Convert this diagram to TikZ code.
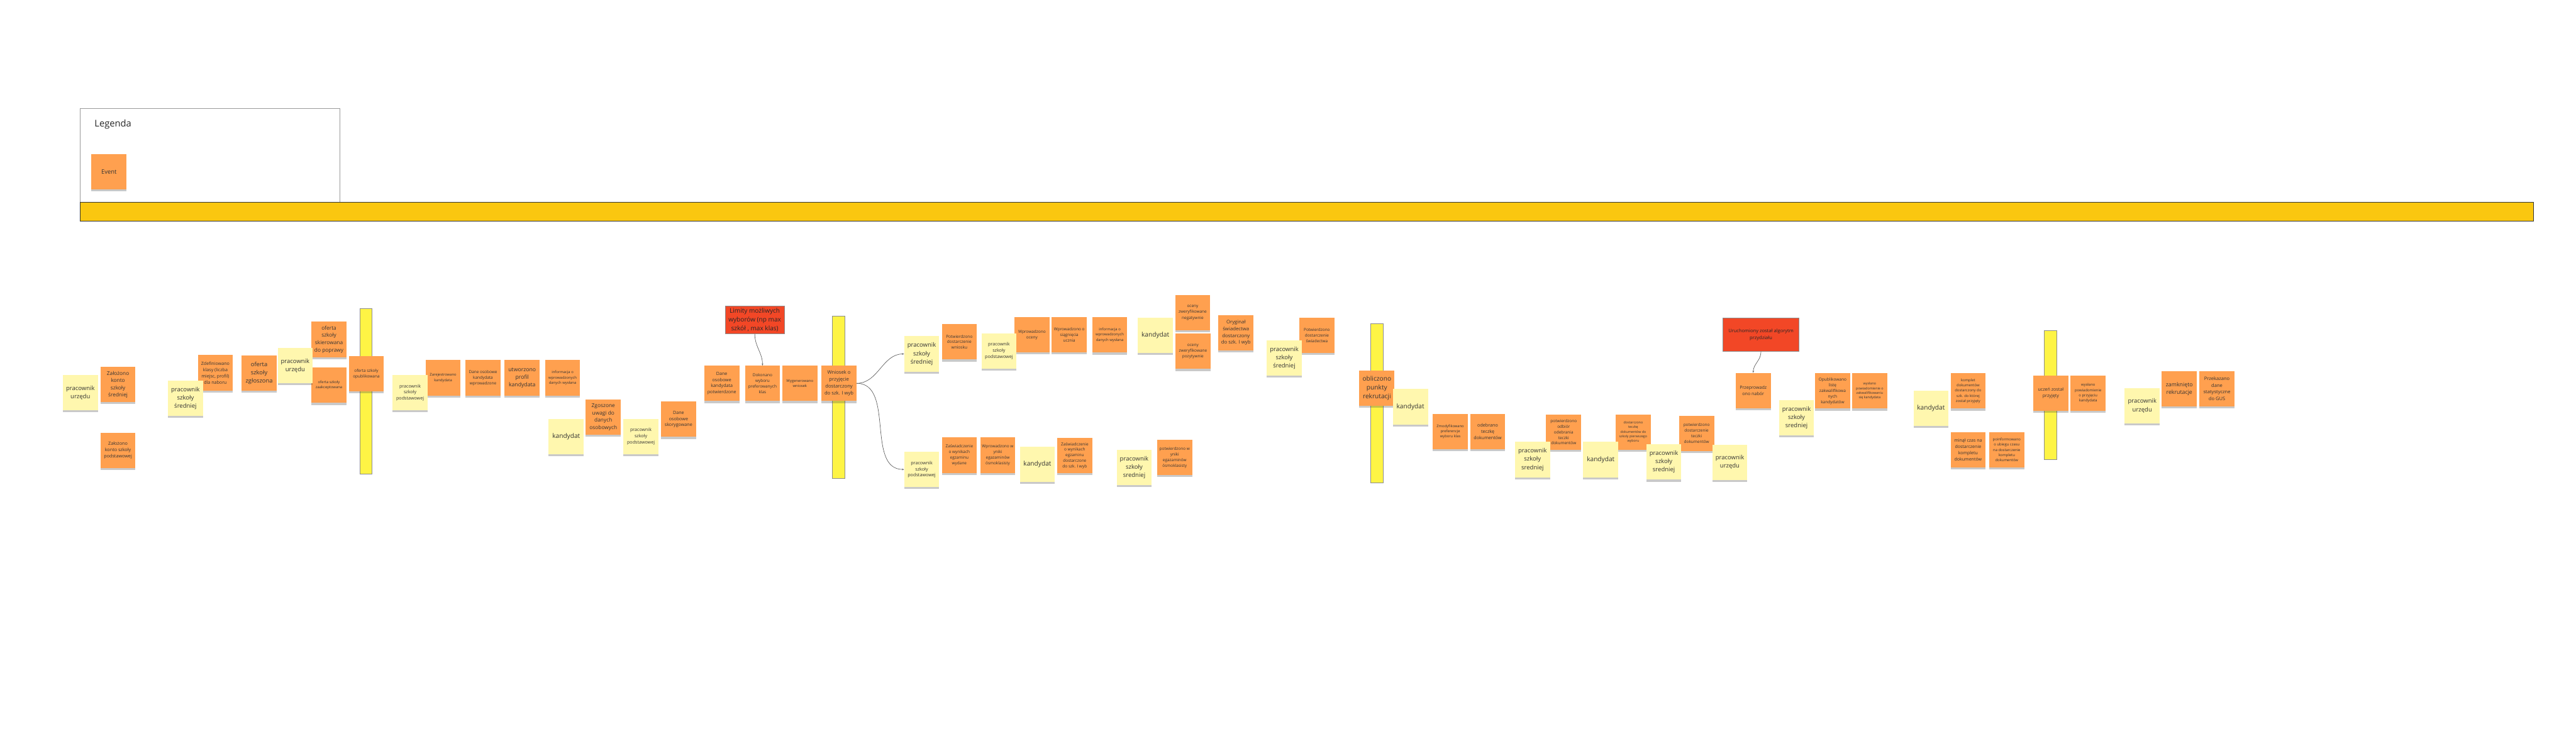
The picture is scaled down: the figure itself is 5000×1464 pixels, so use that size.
\documentclass[tikz,border=0pt]{standalone}
\usepackage{fontspec}
\setmainfont{Open Sans}
\usetikzlibrary{arrows.meta, shadows}

\definecolor{evorange}{HTML}{FFA04F}
\definecolor{actyellow}{HTML}{FFF7AE}
\definecolor{hotred}{HTML}{F24726}
\definecolor{pivotyellow}{HTML}{FEF445}
\definecolor{timebar}{HTML}{FAC710}

\tikzset{
  sticky/.style={minimum width=68pt, minimum height=68.5pt, inner sep=1pt, align=center, text=black!80,
    drop shadow={shadow xshift=0pt, shadow yshift=-4pt, opacity=0.3, fill=black!70}},
  event/.style={sticky, fill=evorange},
  actor/.style={sticky, fill=actyellow},
  hotspot/.style={draw=black!45, line width=1pt, fill=hotred, align=center, inner sep=0pt, text=black!85},
  pivot/.style={draw=black!45, line width=1pt, fill=pivotyellow, minimum width=24pt, inner sep=0pt},
  flow/.style={draw=black!65, line width=0.8pt, -{Stealth[length=4pt, width=3pt]}}
}

\begin{document}
\begin{tikzpicture}[x=1pt, y=-1pt]
\useasboundingbox (0,0) rectangle (5000,1464);

% Legend and timeline
\node[draw=black!40, line width=1pt, fill=white, minimum width=504pt, minimum height=182pt, inner sep=0pt] (legend) at (408,301.8) {};
\node[anchor=west, font=\fontsize{18}{22}\selectfont, text=black!85] (legendtitle) at (180,241.7) {Legenda};
\node[event, font=\fontsize{11.5}{14}\selectfont] (legendevent) at (211.5,333.2) {Event};
\node[draw=black!80, line width=1pt, fill=timebar, minimum width=4761pt, minimum height=36pt, inner sep=0pt] (timeline) at (2536.5,410.7) {};

% Pivotal events
\node[pivot, minimum height=321pt] (pivot1) at (710.5,758.8) {};
\node[pivot, minimum height=315pt] (pivot2) at (1628,770.3) {};
\node[pivot, minimum height=309pt] (pivot3) at (2672.5,782) {};
\node[pivot, minimum height=250pt] (pivot4) at (3980,766.5) {};

% Domain events
\foreach \i/\px/\py/\fsz/\lsk/\txt in {
  1/229/746/10.1/14/{Założono\\ konto\\ szkoły\\ średniej},
  2/229/874/8.8/12.3/{Założono\\ konto szkoły\\ podstawowej},
  3/418/723.3/8.7/12.2/{Zdefiniowano\\ klasy (liczba\\ miejsc, profil)\\ dla naboru},
  4/503/724/11.4/16/{oferta\\ szkoły\\ zgłoszona},
  5/638.5/658.5/10.2/14.3/{oferta\\ szkoły\\ skierowana\\ do poprawy},
  6/638.5/747.3/7.2/10.3/{oferta szkoły\\ zaakceptowana},
  7/711/725/7.9/11/{oferta szkoły\\ opublikowana},
  8/860/733/7.1/10.3/{Zarejestrowano\\ kandydata},
  9/937.5/733/7.9/11/{Dane osobowe\\ kandydata\\ wprowadzone},
  10/1013.5/733/10.6/15/{utworzono\\ profil\\ kandydata},
  11/1092/733/7.2/10.3/{informacja o\\ wprowadzonych\\ danych wysłana},
  12/1171/809.2/10.2/14.3/{Zgoszone\\ uwagi do\\ danych\\ osobowych},
  13/1317/813.5/8.75/12/{Dane\\ osobowe\\ skorygowane},
  14/1401/743.7/8.7/12/{Dane\\ osobowe\\ kandydata\\ potwierdzone},
  15/1480/743.7/7.9/11/{Dokonano\\ wyboru\\ preferowanych\\ klas},
  16/1552.5/743.7/7.2/10/{Wygenerowano\\ wniosek},
  17/1628.5/743.7/9.4/13.3/{Wniosek o\\ przyjęcie\\ dostarczony\\ do szk. I wyb},
  18/1862/663.3/8/10.7/{Potwierdzono\\ dostarczenie\\ wniosku},
  19/2003/649.3/7.9/11/{Wprowadzono\\ oceny},
  20/2075.5/649.2/7.8/11/{Wprowadzono o\\ siągnięcia\\ ucznia},
  21/2154/649.7/7.2/10.2/{informacja o\\ wprowadzonych\\ danych wysłana},
  22/1862/883.2/7.9/11/{Zaświadczenie\\ o wynikach\\ egzaminu\\ wydane},
  23/1936.6/883.2/7.85/11/{Wprowadzono w\\ yniki\\ egazaminów\\ ósmoklasisty},
  24/2086/883.8/7.9/10.8/{Zaświadczenie\\ o wynikach\\ egzaminu\\ dostarczone\\ do szk. I wyb},
  25/2280/887.5/7.85/11/{potwierdzono w\\ yniki\\ egazaminów\\ ósmoklasisty},
  26/2315/606.7/7.9/11/{oceny\\ zweryfikowane\\ negatywnie},
  27/2315.5/681.5/7.9/11/{oceny\\ zweryfikowane\\ pozytywnie},
  28/2399/645.3/9.5/13.2/{Oryginał\\ świadectwa\\ dostarczony\\ do szk. I wyb},
  29/2556/650.7/7.85/11/{Potwierdzono\\ dostarczenie\\ świadectwa},
  30/2672.5/753.3/12.4/17/{obliczono\\ punkty\\ rekrutacji},
  31/2815/837.3/7.1/10/{Zmodyfikowano\\ preferencje\\ wyboru klas},
  32/2887.6/837.5/8.75/12/{odebrano\\ teczkę\\ dokumentów},
  33/3035/838.2/7.9/10.9/{potwierdzono\\ odbiór\\ odebrania\\ teczki\\ dokumentów},
  34/3170/838.3/6.5/9/{dostarczono\\ teczkę\\ dokumentów do\\ szkoły pierwszego\\ wyboru},
  35/3293/840.7/7.9/10.9/{potwierdzono\\ dostarczenie\\ teczki\\ dokumentów},
  36/3403/757.7/8.7/12/{Przeprowadz\\ ono nabór},
  37/3557/758.5/8/11/{Opublikowano\\ listę\\ zakwalifikowa\\ nych\\ kandydatów},
  38/3629/758.5/6.6/9/{wysłano\\ powiadomienie o\\ zakwalifikowaniu\\ się kandydata},
  39/3820/758.5/7.2/10.2/{komplet\\ dokumentów\\ dostarczony do\\ szk. do której\\ został przyjęty},
  40/3820/872.7/8.6/12/{minął czas na\\ dostarczenie\\ kompletu\\ dokumentów},
  41/3895/872.7/7.2/10.2/{poinformowano\\ o ubiegu czasu\\ na dostarczenie\\ kompletu\\ dokumentów},
  42/3980.5/762.7/8.7/12.2/{uczeń został\\ przyjęty},
  43/4053/762.7/7.2/10.3/{wysłano\\ powiadomienie\\ o przyjęciu\\ kandydata},
  44/4230/754.2/10.75/14.7/{zamknięto\\ rekrutacje},
  45/4303/754.2/9.2/13/{Przekazano\\ dane\\ statystyczne\\ do GUS}} {
    \node[event, font=\fontsize{\fsz}{\lsk}\selectfont] (e\i) at (\px,\py) {\txt};
}

% Actors
\foreach \i/\px/\py/\fsz/\lsk/\txt in {
  1/156/761.7/11.6/16/{pracownik\\ urzędu},
  2/360/772.7/11.6/16/{pracownik\\ szkoły\\ średniej},
  3/573/709.2/11.6/16/{pracownik\\ urzędu},
  4/796/761.8/8.7/12/{pracownik\\ szkoły\\ podstawowej},
  5/1099/847.2/12.4/16/{kandydat},
  6/1244/846.8/8.7/12/{pracownik\\ szkoły\\ podstawowej},
  7/1789/686.7/11.6/16/{pracownik\\ szkoły\\ średniej},
  8/1939/680.8/8.8/12/{pracownik\\ szkoły\\ podstawowej},
  9/2242.5/650.8/12.4/16/{kandydat},
  10/1789/910.8/8.8/12/{pracownik\\ szkoły\\ podstawowej},
  11/2013.5/900.5/12.4/16/{kandydat},
  12/2201.5/906.7/11.6/16/{pracownik\\ szkoły\\ sredniej},
  13/2492.7/694.5/11.6/16/{pracownik\\ szkoły\\ średniej},
  14/2737.6/789.2/12.4/16/{kandydat},
  15/2974.6/891.7/11.6/16/{pracownik\\ szkoły\\ sredniej},
  16/3107/891.7/12.4/16/{kandydat},
  17/3229.5/896.3/11.6/16/{pracownik\\ szkoły\\ sredniej},
  18/3357.5/896.7/11.6/16/{pracownik\\ urzędu},
  19/3487/810.5/11.6/16/{pracownik\\ szkoły\\ sredniej},
  20/3748/792.2/12.4/16/{kandydat},
  21/4158/787.2/11.6/16/{pracownik\\ urzędu}} {
    \node[actor, font=\fontsize{\fsz}{\lsk}\selectfont] (a\i) at (\px,\py) {\txt};
}

% Hot spots
\node[hotspot, minimum width=115pt, minimum height=54pt, font=\fontsize{12.3}{17.3}\selectfont] (limits) at (1465,620.3) {Limity możliwych\\ wyborów (np max\\ szkół , max klas)};
\node[hotspot, minimum width=148pt, minimum height=65pt, font=\fontsize{9.2}{12.7}\selectfont] (algorithm) at (3418,649.3) {Uruchomiony został algorytm\\ przydziału};

\draw[flow] (limits.south) to[out=-90, in=90] (e15.north);
\draw[flow] (e17.east) to[out=0, in=180] (a7.west);
\draw[flow] (e17.east) to[out=0, in=180] (a10.west);
\draw[flow] (algorithm.south) to[out=-90, in=90] (e36.north);

\end{tikzpicture}
\end{document}
